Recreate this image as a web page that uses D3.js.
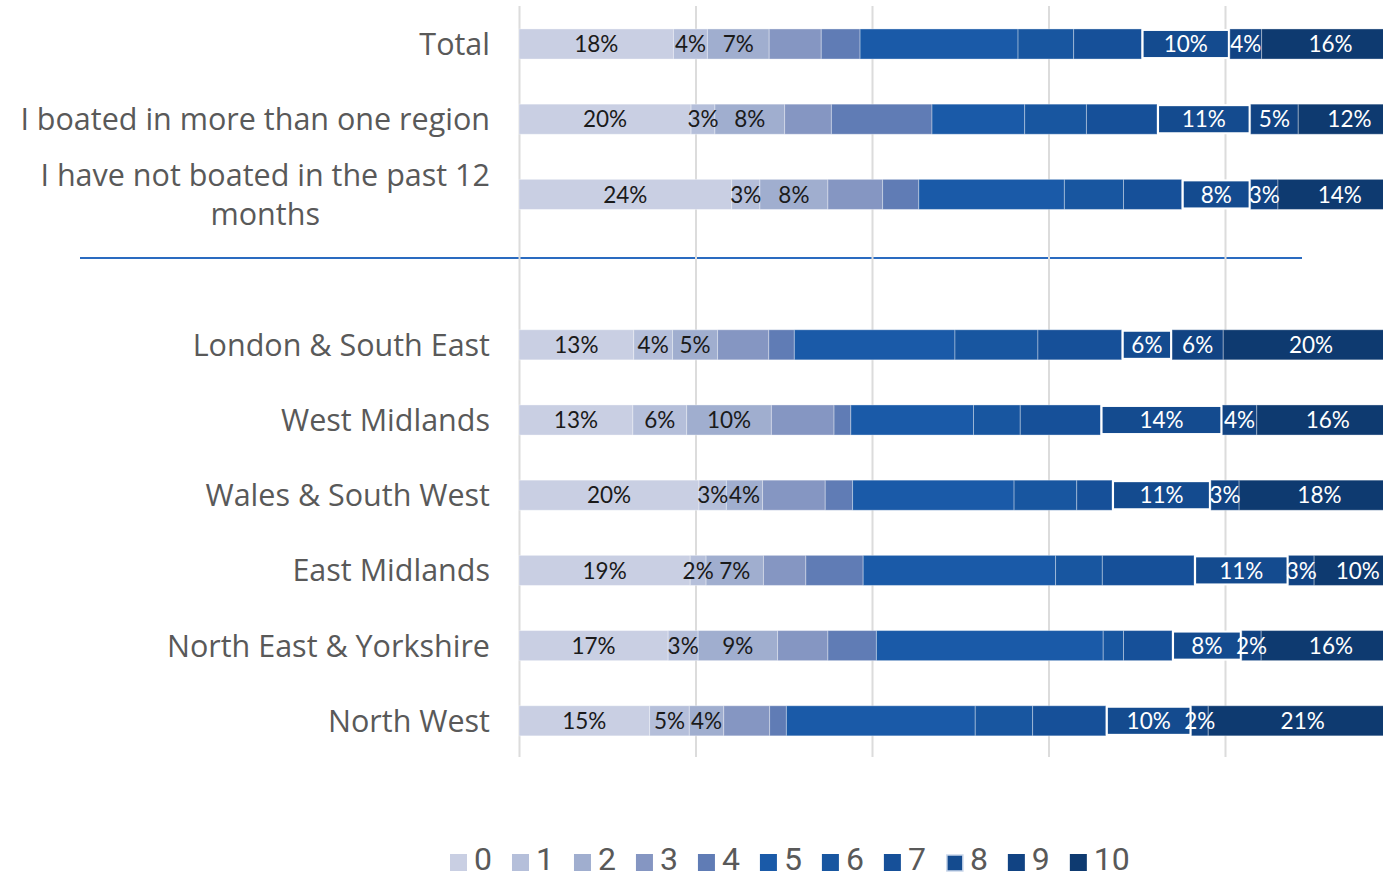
<!DOCTYPE html>
<html>
<head>
<meta charset="utf-8">
<script src="https://cdn.jsdelivr.net/npm/d3@7"></script>
<style>
  html, body { margin: 0; padding: 0; background: #ffffff; }
  svg { display: block; }
  text { font-family: Lato, "Open Sans", sans-serif; }
</style>
</head>
<body>
<svg id="chart" width="1383" height="879"></svg>
<script>
// ---- DATA ----
const groupA = ["Total", "I boated in more than one region", "I have not boated in the past 12 months"];
const groupB = ["London & South East", "West Midlands", "Wales & South West", "East Midlands", "North East & Yorkshire", "North West"];
const scores = ["0", "1", "2", "3", "4", "5", "6", "7", "8", "9", "10"];
const labelledScores = ["0", "1", "2", "8", "9", "10"];
const xTicks = [0, 20, 40, 60, 80, 100];

// percentages for scores 0..10 per row
const vTotal      = [17.5, 3.85, 7.0, 5.9, 4.4, 17.9, 6.3, 7.7, 10.0, 3.6, 15.6];
const vMultiple   = [19.5, 2.7, 7.9, 5.3, 11.4, 10.5, 7.0, 8.0, 10.6, 5.4, 11.6];
const vNotBoated  = [24.1, 3.2, 7.7, 6.2, 4.1, 16.5, 6.7, 6.6, 7.8, 3.1, 14.0];
const vLondonSE   = [13.0, 4.4, 5.1, 5.8, 2.9, 18.2, 9.4, 9.5, 5.7, 5.8, 19.9];
const vWestMid    = [12.9, 6.1, 9.6, 7.1, 1.9, 13.9, 5.3, 9.1, 13.8, 3.9, 16.1];
const vWalesSW    = [20.4, 3.1, 4.1, 7.1, 3.1, 18.3, 7.1, 4.0, 11.2, 3.2, 18.2];
const vEastMid    = [19.4, 1.8, 6.5, 4.8, 6.5, 21.8, 5.3, 10.4, 10.7, 2.9, 9.9];
const vNEYorks    = [16.9, 3.4, 9.0, 5.7, 5.5, 25.7, 2.3, 5.5, 7.9, 2.2, 15.8];
const vNorthWest  = [14.8, 4.5, 3.9, 5.2, 1.9, 21.4, 6.5, 8.3, 9.7, 1.9, 21.4];

const colors = ["#c9cfe3", "#b5bfda", "#a0aecf", "#8596c2", "#607cb5", "#1a5aa8", "#1856a0", "#165099", "#144b8f", "#114383", "#0e3a70"];

const rowValues = {
  "Total": vTotal,
  "I boated in more than one region": vMultiple,
  "I have not boated in the past 12 months": vNotBoated,
  "London & South East": vLondonSE,
  "West Midlands": vWestMid,
  "Wales & South West": vWalesSW,
  "East Midlands": vEastMid,
  "North East & Yorkshire": vNEYorks,
  "North West": vNorthWest
};

// ---- SCALES ----
const GAP = "__gap__";
const domain = [...groupA, GAP, ...groupB];
const svg = d3.select("#chart");

const x = d3.scaleLinear().domain([0, 100]).range([519, 1401.5]);
const y = d3.scaleBand().domain(domain).range([6.4, 758.4]).paddingInner(0.6).paddingOuter(0.3);
const color = d3.scaleOrdinal().domain(scores).range(colors);

// separator line
const gapCenter = y(GAP) + y.bandwidth() / 2;
svg.append("line")
  .attr("x1", 80).attr("x2", 1302)
  .attr("y1", gapCenter - 11.5).attr("y2", gapCenter - 11.5)
  .attr("stroke", "#2a6bc0").attr("stroke-width", 2);

// gridlines
svg.append("g")
  .attr("transform", "translate(0,6)")
  .call(d3.axisBottom(x).tickValues(xTicks).tickSize(751).tickFormat(""))
  .call(g => g.select(".domain").remove())
  .call(g => g.selectAll(".tick line").attr("stroke", "#dcdcdc").attr("stroke-width", 2));

// stacked data
const rows = [...groupA, ...groupB];
const stackData = rows.map(r => {
  const o = { cat: r };
  scores.forEach((s, i) => o[s] = rowValues[r][i]);
  return o;
});
const series = d3.stack().keys(scores)(stackData);

const layer = svg.append("g").selectAll("g").data(series).join("g")
  .attr("fill", d => color(d.key));

layer.each(function(s) {
  const isEight = s.key === "8";
  d3.select(this).selectAll("rect").data(s).join("rect")
    .attr("x", d => x(d[0]) + (isEight ? 1 : 0))
    .attr("y", d => y(d.data.cat) + (isEight ? 1 : 0))
    .attr("width", d => Math.max(0, x(d[1]) - x(d[0]) - (isEight ? 2 : 0)))
    .attr("height", y.bandwidth() - (isEight ? 2 : 0))
    .attr("stroke", isEight ? "#ffffff" : "rgba(255,255,255,0.35)")
    .attr("stroke-width", isEight ? 2 : 1);
});

// data labels
const labelLayer = svg.append("g");
series.filter(s => labelledScores.includes(s.key)).forEach(s => {
  const dark = ["0", "1", "2"].includes(s.key);
  labelLayer.selectAll(null).data(s).join("text")
    .attr("x", d => (x(d[0]) + x(d[1])) / 2)
    .attr("y", d => y(d.data.cat) + y.bandwidth() / 2)
    .attr("dy", "0.36em")
    .attr("text-anchor", "middle")
    .attr("font-size", 22.5)
    .attr("fill", dark ? "#1a1a1a" : "#ffffff")
    .text(d => Math.round(d[1] - d[0]) + "%");
});

// category labels
const wrapMap = { "I have not boated in the past 12 months": ["I have not boated in the past 12", "months"] };
const catG = svg.append("g");
rows.forEach(r => {
  const lines = wrapMap[r] || [r];
  const cy = y(r) + y.bandwidth() / 2;
  const lh = 39;
  const t = catG.append("text")
    .attr("text-anchor", "middle")
    .style("font-family", "'Open Sans', Lato, sans-serif")
    .attr("font-size", 30.5)
    .attr("fill", "#595959");
  lines.forEach((ln, i) => {
    t.append("tspan")
      .attr("x", 0)
      .attr("y", cy + (i - (lines.length - 1) / 2) * lh)
      .attr("dy", "0.36em")
      .text(ln);
  });
  const bb = t.node().getBBox();
  if (lines.length === 1) {
    t.attr("text-anchor", "end").selectAll("tspan").attr("x", 490);
  } else {
    t.selectAll("tspan").attr("x", 490 - bb.width / 2);
  }
});

// legend
const legend = svg.append("g");
let lx = 450;
scores.forEach(s => {
  const isEight = s === "8";
  legend.append("rect")
    .attr("x", lx + (isEight ? 1 : 0)).attr("y", 854 + (isEight ? 1 : 0))
    .attr("width", isEight ? 16 : 17).attr("height", isEight ? 16 : 17)
    .attr("fill", color(s))
    .attr("stroke", isEight ? "#c9d6ea" : "none").attr("stroke-width", isEight ? 1.5 : 0);
  const t = legend.append("text")
    .attr("x", lx + 24).attr("y", 870)
    .style("font-family", "Roboto, sans-serif")
    .attr("font-size", 32).attr("fill", "#595959")
    .text(s);
  lx += 24 + t.node().getComputedTextLength() + 20;
});
</script>
</body>
</html>
